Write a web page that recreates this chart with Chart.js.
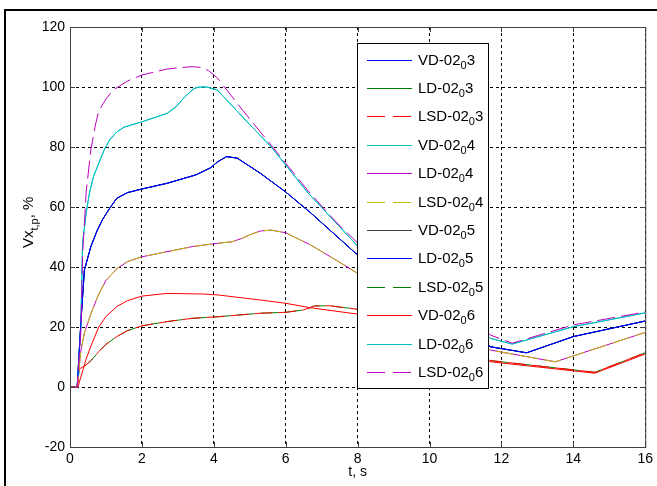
<!DOCTYPE html>
<html>
<head>
<meta charset="utf-8">
<script src="https://cdn.jsdelivr.net/npm/chart.js@4.4.1/dist/chart.umd.min.js"></script>
<style>
html, body { margin: 0; padding: 0; background: #fff; }
canvas { display: block; }
</style>
</head>
<body>
<canvas id="chart" width="657" height="486"></canvas>
<script>
// Curves: t in s, value in %
// (t 8..11.7 is hidden behind the legend in the original)
const tTop = [0, 0.2, 0.3, 0.35, 0.45, 0.58, 0.7, 0.8, 1.0, 1.2, 1.6, 2.0, 2.7, 3.4, 3.65, 3.85, 4.1, 4.8, 5.5, 6.0, 6.6, 7.4, 8.0, 11.7, 12.3, 14.0, 16];
const vTop = [0, 0, 18, 44, 65, 79, 87, 92, 96, 99, 102, 104, 106, 106.8, 106.5, 105.5, 103, 92.3, 82, 74.6, 65.7, 55, 48, 17.3, 14.6, 20.7, 25];

const tSecond = [0, 0.2, 0.3, 0.35, 0.45, 0.54, 0.65, 0.8, 0.95, 1.1, 1.3, 1.5, 2.0, 2.7, 2.95, 3.2, 3.45, 3.6, 3.8, 4.1, 4.8, 5.6, 6.6, 8.0, 11.7, 12.3, 14.0, 16];
const vSecond = [0, 0, 20, 48, 58, 64.6, 70, 74.6, 79, 82.3, 85, 86.6, 88.4, 91.2, 93.4, 96.8, 99.5, 100, 100, 99, 90, 80, 65, 47, 16.2, 14.3, 20.1, 24.7];

const tMid = [0, 0.2, 0.3, 0.4, 0.58, 0.75, 0.9, 1.1, 1.3, 1.6, 2.0, 2.7, 3.5, 3.9, 4.1, 4.35, 4.65, 5.3, 6.0, 6.7, 8.0, 11.7, 12.7, 14.0, 16];
const vMid = [0, 0, 21, 39, 46.8, 52, 55.7, 59.5, 62.9, 64.8, 66, 67.9, 70.7, 73, 75, 76.8, 76.3, 71.2, 65, 58, 44, 13.4, 11.4, 16.8, 22];

const tYellow = [0, 0.2, 0.3, 0.4, 0.6, 0.8, 1.0, 1.3, 1.6, 2.0, 2.7, 3.4, 4.1, 4.5, 4.8, 5.05, 5.3, 5.6, 6.0, 6.7, 7.4, 8.0, 11.7, 13.5, 16];
const vYellow = [0, 0, 12, 18, 25, 31, 35.5, 39.4, 41.8, 43.4, 45.1, 46.8, 47.9, 48.4, 49.6, 51, 52, 52.3, 51.4, 47.3, 42.3, 37.9, 12.3, 8.4, 18.2];

const tRedUpper = [0, 0.22, 0.44, 0.56, 0.8, 1.0, 1.3, 1.6, 2.0, 2.7, 3.7, 4.1, 5.3, 6.0, 6.7, 8.0, 11.7, 14.6, 16];
const vRedUpper = [0, 0, 9, 13, 20, 23.5, 26.8, 28.8, 30.3, 31.2, 31, 30.7, 29, 27.9, 26.4, 24.3, 8.4, 4.6, 11];

const tRedLower = [0, 0.2, 0.26, 0.44, 0.6, 0.8, 1.0, 1.3, 1.6, 2.0, 2.7, 3.4, 4.1, 5.3, 6.0, 6.5, 6.8, 7.2, 8.0, 11.7, 14.6, 16];
const vRedLower = [0, 0, 6, 7.3, 9, 11.8, 14.2, 16.8, 18.8, 20.4, 21.8, 22.9, 23.4, 24.6, 24.9, 25.7, 27, 27.1, 25.9, 8.8, 4.9, 11.4];

const curves = {
    top: [tTop, vTop],
    second: [tSecond, vSecond],
    mid: [tMid, vMid],
    yellow: [tYellow, vYellow],
    redUpper: [tRedUpper, vRedUpper],
    redLower: [tRedLower, vRedLower],
};

// legend text as [main, subscript, tail]
const seriesLabels = [
    ['VD-02', '0', '3'], ['LD-02', '0', '3'], ['LSD-02', '0', '3'],
    ['VD-02', '0', '4'], ['LD-02', '0', '4'], ['LSD-02', '0', '4'],
    ['VD-02', '0', '5'], ['LD-02', '0', '5'], ['LSD-02', '0', '5'],
    ['VD-02', '0', '6'], ['LD-02', '0', '6'], ['LSD-02', '0', '6'],
];
const seriesCurve = ['mid', 'mid', 'redLower', 'second', 'yellow', 'yellow', 'mid', 'mid', 'redLower', 'redUpper', 'second', 'top'];

const xTicks = { min: 0, max: 16, step: 2 };
const yTicks = { min: -20, max: 120, step: 20 };

// styles
const seriesColor = ['#0000ff', '#008000', '#ff0000', '#00bfbf', '#bf00bf', '#bfbf00', '#404040', '#0000ff', '#008000', '#ff0000', '#00bfbf', '#bf00bf'];
const seriesDashed = [false, false, true, false, false, true, false, false, true, false, false, true];
const seriesOrder = [7, 8, 2, 4, 5, 1, 9, 3, 6, 3, 4, 0];
const seriesDashOffset = [0, 0, 0, 0, 0, 0, 0, 0, 18, 0, 0, 0];
const DASH = [18, 6];
const FONT = 'Liberation Sans, Arial, Helvetica, sans-serif';

function toPoints(name) {
    const [t, v] = curves[name];
    return t.map((x, i) => ({ x: x, y: v[i] }));
}

// text with one subscript part: [main, sub, tail]
function drawSubText(ctx, x, y, parts, size, subSize, subShift) {
    ctx.font = size + 'px ' + FONT;
    ctx.fillText(parts[0], x, y);
    x += ctx.measureText(parts[0]).width;
    ctx.font = subSize + 'px ' + FONT;
    ctx.fillText(parts[1], x, y + subShift);
    x += ctx.measureText(parts[1]).width;
    ctx.font = size + 'px ' + FONT;
    ctx.fillText(parts[2], x, y);
}

const decorations = {
    id: 'decorations',
    beforeDraw(chart) {
        const { ctx, width, height } = chart;
        ctx.save();
        ctx.fillStyle = '#fff';
        ctx.fillRect(0, 0, width, height);
        ctx.restore();
    },
    afterDatasetsDraw(chart) {
        const { ctx, chartArea: a, scales: { x, y } } = chart;
        ctx.save();
        ctx.strokeStyle = '#404040';
        ctx.lineWidth = 1;
        ctx.strokeRect(a.left + 0.5, a.top + 0.5, a.right - a.left, a.bottom - a.top);
        ctx.beginPath();
        x.ticks.forEach(t => {
            const px = Math.round(x.getPixelForValue(t.value)) + 0.5;
            ctx.moveTo(px, a.bottom); ctx.lineTo(px, a.bottom - 5);
            ctx.moveTo(px, a.top); ctx.lineTo(px, a.top + 5);
        });
        y.ticks.forEach(t => {
            const py = Math.round(y.getPixelForValue(t.value)) + 0.5;
            ctx.moveTo(a.left, py); ctx.lineTo(a.left + 5, py);
            ctx.moveTo(a.right, py); ctx.lineTo(a.right - 5, py);
        });
        ctx.stroke();
        ctx.restore();
    },
    afterDraw(chart) {
        const { ctx } = chart;
        ctx.save();

        // outer frame (top and left edges of the figure)
        ctx.strokeStyle = '#000';
        ctx.lineWidth = 2;
        ctx.beginPath();
        ctx.moveTo(5, 486); ctx.lineTo(5, 10); ctx.lineTo(657, 10);
        ctx.stroke();

        // y title, rotated, with subscript
        ctx.fillStyle = '#000';
        ctx.textBaseline = 'alphabetic';
        ctx.textAlign = 'left';
        ctx.save();
        ctx.translate(33, 248);
        ctx.rotate(-Math.PI / 2);
        drawSubText(ctx, 0, 0, ['Vx', 't,p', ', %'], 15, 11, 5);
        ctx.restore();

        // legend box
        const lx = 357, ly = 43, lw = 131, lh = 345;
        ctx.fillStyle = '#fff';
        ctx.fillRect(lx, ly, lw, lh);
        ctx.strokeStyle = '#000';
        ctx.lineWidth = 1;
        ctx.strokeRect(lx + 0.5, ly + 0.5, lw, lh);

        const rowTop = 59.5, rowStep = 28.4;
        seriesLabels.forEach((parts, i) => {
            const ry = Math.round(rowTop + i * rowStep) + 0.5;
            ctx.strokeStyle = seriesColor[i];
            ctx.lineWidth = 1;
            ctx.setLineDash(seriesDashed[i] ? [18, 8] : []);
            ctx.beginPath();
            ctx.moveTo(367, ry);
            ctx.lineTo(412, ry);
            ctx.stroke();
            ctx.setLineDash([]);
            ctx.fillStyle = '#000';
            drawSubText(ctx, 418, ry + 4.5, parts, 15, 11, 4);
        });
        ctx.restore();
    }
};

const datasets = seriesLabels.map((parts, i) => ({
    label: parts.join(''),
    data: toPoints(seriesCurve[i]),
    borderColor: seriesColor[i],
    borderWidth: 1,
    borderDash: seriesDashed[i] ? DASH : [],
    borderDashOffset: seriesDashOffset[i],
    pointRadius: 0,
    fill: false,
    tension: 0,
    order: seriesOrder[i],
}));

const tickFont = { family: FONT, size: 14 };

new Chart(document.getElementById('chart').getContext('2d'), {
    type: 'line',
    data: { datasets: datasets },
    options: {
        responsive: false,
        animation: false,
        layout: { padding: { top: 27, right: 11, left: 0, bottom: 0 } },
        plugins: {
            legend: { display: false },
            tooltip: { enabled: false },
        },
        scales: {
            x: {
                type: 'linear',
                min: xTicks.min,
                max: xTicks.max,
                ticks: { stepSize: xTicks.step, padding: 4, color: '#000', font: tickFont, maxRotation: 0 },
                grid: { color: '#000', lineWidth: 1, drawTicks: false },
                border: { display: false, dash: [3, 3] },
                title: { display: true, text: 't, s', color: '#000', font: tickFont, padding: { top: 0, bottom: 5 } },
                afterFit: (scale) => { scale.height = 39; },
            },
            y: {
                type: 'linear',
                min: yTicks.min,
                max: yTicks.max,
                ticks: { stepSize: yTicks.step, padding: 5, color: '#000', font: tickFont },
                grid: { color: '#000', lineWidth: 1, drawTicks: false },
                border: { display: false, dash: [3, 3] },
                afterFit: (scale) => { scale.width = 70; },
            }
        }
    },
    plugins: [decorations]
});
</script>
</body>
</html>
